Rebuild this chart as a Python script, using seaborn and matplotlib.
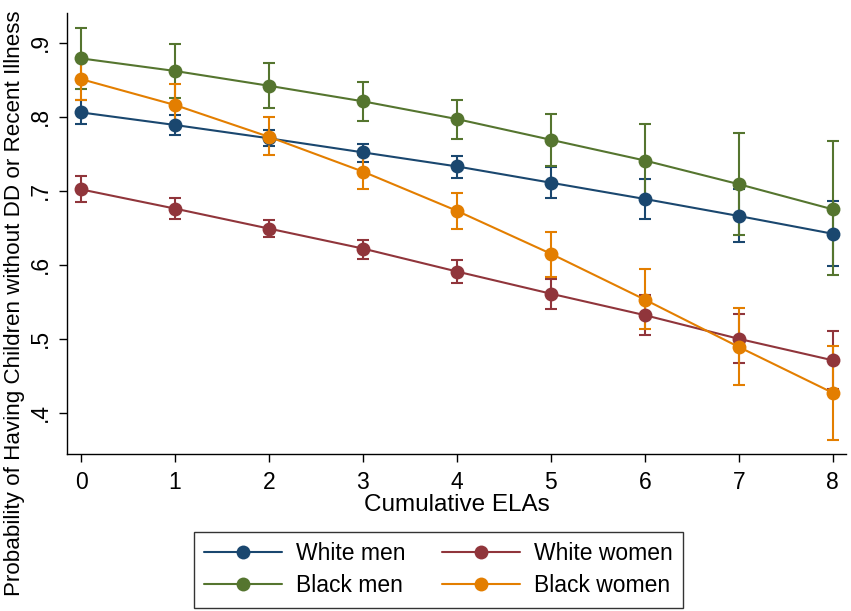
import numpy as np
import pandas as pd
import seaborn as sns
import matplotlib
matplotlib.use("Agg")
import matplotlib.pyplot as plt

# data
elas = [0, 1, 2, 3, 4, 5, 6, 7, 8]
groups = ["White men", "White women", "Black men", "Black women"]

white_men = [0.806, 0.789, 0.771, 0.752, 0.733, 0.711, 0.689, 0.666, 0.642]
white_men_lo = [0.790, 0.776, 0.760, 0.739, 0.717, 0.690, 0.662, 0.631, 0.599]
white_men_hi = [0.823, 0.803, 0.782, 0.763, 0.747, 0.732, 0.716, 0.702, 0.686]

white_women = [0.702, 0.676, 0.649, 0.622, 0.591, 0.561, 0.532, 0.500, 0.471]
white_women_lo = [0.685, 0.662, 0.637, 0.608, 0.576, 0.541, 0.505, 0.467, 0.432]
white_women_hi = [0.720, 0.690, 0.660, 0.633, 0.607, 0.581, 0.559, 0.534, 0.510]

black_men = [0.879, 0.862, 0.842, 0.821, 0.797, 0.769, 0.741, 0.709, 0.675]
black_men_lo = [0.838, 0.826, 0.812, 0.795, 0.770, 0.734, 0.691, 0.640, 0.586]
black_men_hi = [0.920, 0.898, 0.873, 0.847, 0.823, 0.804, 0.790, 0.778, 0.767]

black_women = [0.851, 0.816, 0.773, 0.726, 0.673, 0.615, 0.553, 0.489, 0.427]
black_women_lo = [0.823, 0.788, 0.749, 0.703, 0.649, 0.584, 0.513, 0.437, 0.363]
black_women_hi = [0.879, 0.844, 0.800, 0.749, 0.697, 0.645, 0.594, 0.542, 0.490]

colors = ["#1a476f", "#90353b", "#55752f", "#e37e00"]

series = {
    "White men": (white_men, white_men_lo, white_men_hi),
    "White women": (white_women, white_women_lo, white_women_hi),
    "Black men": (black_men, black_men_lo, black_men_hi),
    "Black women": (black_women, black_women_lo, black_women_hi),
}

rows = []
for g in groups:
    est, lo, hi = series[g]
    for x, y, l, h in zip(elas, est, lo, hi):
        rows.append({"ela": x, "prob": y, "lo": l, "hi": h, "group": g})
df = pd.DataFrame(rows)

sns.set_style("white")
plt.rcParams["font.family"] = ["Liberation Sans", "DejaVu Sans"]
plt.rcParams["text.color"] = "black"
plt.rcParams["axes.labelcolor"] = "black"
plt.rcParams["xtick.color"] = "black"
plt.rcParams["ytick.color"] = "black"

fig = plt.figure(figsize=(8.51, 6.11), dpi=100)
ax = fig.add_axes([0.0791, 0.2565, 0.915, 0.7218])

palette = dict(zip(groups, colors))

# confidence intervals
for g in groups:
    d = df[df["group"] == g]
    ax.errorbar(d["ela"], d["prob"],
                yerr=[d["prob"] - d["lo"], d["hi"] - d["prob"]],
                fmt="none", ecolor=palette[g], elinewidth=1.5,
                capsize=4, capthick=1.5, zorder=2)

sns.lineplot(data=df, x="ela", y="prob", hue="group", hue_order=groups,
             palette=palette, marker="o", markersize=10, markeredgewidth=0,
             linewidth=1.5, ax=ax, legend=True, zorder=3)

ax.set_xlim(-0.146, 8.14)
ax.set_ylim(0.344, 0.94)
ax.set_xticks(elas)
ax.set_yticks([0.4, 0.5, 0.6, 0.7, 0.8, 0.9])
ax.set_yticklabels([".4", ".5", ".6", ".7", ".8", ".9"], rotation=90,
                   va="center")
ax.tick_params(axis="both", direction="out", length=6, width=1,
               labelsize=16.5, color="black", labelcolor="black",
               left=True, bottom=True)
ax.tick_params(axis="x", pad=6)
ax.tick_params(axis="y", pad=5)

for side in ["top", "right"]:
    ax.spines[side].set_visible(False)
for side in ["left", "bottom"]:
    ax.spines[side].set_color("black")
    ax.spines[side].set_linewidth(1)

ax.set_xlabel("Cumulative ELAs", fontsize=17.5, labelpad=0, color="black")
ax.set_ylabel("")

# y title sits on the whole figure height, fitted to its length in the reference
ytitle = fig.text(15 / 851, 1 - 303 / 611,
                  "Probability of Having Children without DD or Recent Illness",
                  rotation=90, ha="center", va="center", fontsize=15,
                  color="black")
fig.canvas.draw()
h = ytitle.get_window_extent().height
ytitle.set_fontsize(15 * 585 / h)

handles, labels = ax.get_legend_handles_labels()
ax.get_legend().remove()
lookup = dict(zip(labels, handles))
leg_order = ["White men", "Black men", "White women", "Black women"]
leg = fig.legend([lookup[k] for k in leg_order], leg_order,
                 loc="upper center", ncol=2, borderaxespad=0,
                 bbox_to_anchor=(0.515, 1 - 532 / 611), fontsize=16.5,
                 frameon=True, fancybox=False, edgecolor="black",
                 handlelength=3.4, columnspacing=1.6, handletextpad=0.6,
                 borderpad=0.45, labelspacing=0.4, labelcolor="black")
leg.get_frame().set_linewidth(1)

fig.savefig("out.png", dpi=100, facecolor="white")
